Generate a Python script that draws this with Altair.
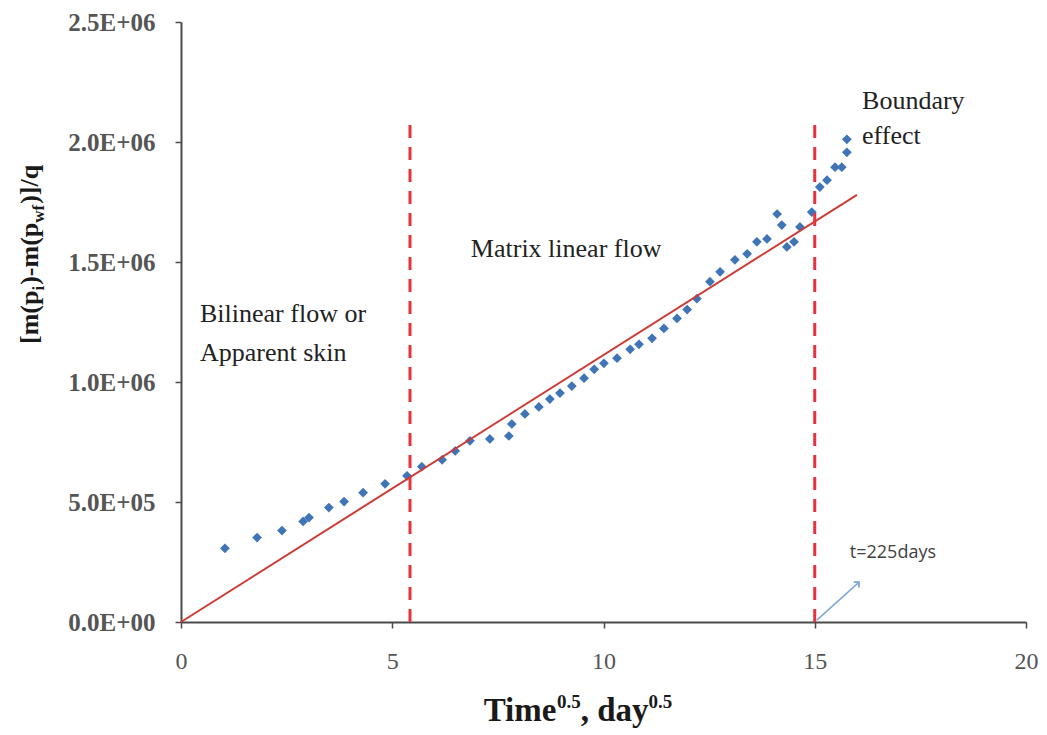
import altair as alt
import pandas as pd

# ---------------- data ----------------
time_sqrt = [1.04, 1.80, 2.39, 2.89, 3.03, 3.50, 3.86, 4.31, 4.83, 5.35, 5.70, 6.18, 6.49,
             6.84, 7.31, 7.76, 7.83, 8.14, 8.47, 8.73, 8.97, 9.25, 9.54, 9.78, 10.01, 10.32,
             10.63, 10.84, 11.15, 11.43, 11.74, 11.98, 12.21, 12.52, 12.76, 13.11, 13.40,
             13.63, 13.87, 14.11, 14.22, 14.34, 14.51, 14.65, 14.93, 15.12, 15.29, 15.48,
             15.64, 15.76, 15.76]
norm_dp = [307000, 352000, 381000, 419000, 435000, 477000, 502000, 539000, 576000, 609000,
           647000, 676000, 713000, 755000, 763000, 775000, 825000, 867000, 896000, 929000,
           954000, 983000, 1016000, 1053000, 1078000, 1099000, 1136000, 1157000, 1182000,
           1223000, 1265000, 1302000, 1347000, 1418000, 1459000, 1509000, 1534000, 1584000,
           1596000, 1700000, 1654000, 1563000, 1584000, 1646000, 1708000, 1812000, 1841000,
           1895000, 1895000, 1957000, 2011000]

fit_x = [0, 16]
fit_y = [0, 1780000]

boundary_x = [5.42, 15.0]
boundary_bottom = [0, 0]
boundary_top = [2080000, 2080000]

ann_text = ["Bilinear flow or", "Apparent skin", "Matrix linear flow", "Boundary", "effect"]
ann_x = [0.45, 0.45, 6.86, 16.12, 16.12]
ann_y = [1285000, 1119000, 1555000, 2172000, 2027000]

note_text = ["t=225days"]
note_x = [15.83]
note_y = [286000]

arrow_x = [15.05]
arrow_y = [8000]
arrow_x2 = [16.05]
arrow_y2 = [166000]

x_ticks = [0, 5, 10, 15, 20]
y_ticks = [0, 500000, 1000000, 1500000, 2000000, 2500000]
y_tick_labels = ["0.0E+00", "5.0E+05", "1.0E+06", "1.5E+06", "2.0E+06", "2.5E+06"]

# ---------------- layout / style ----------------
W, H = 845, 600
LEFT, TOP, RIGHT, BOTTOM = 173, 14, 13, 108
SERIF = "Liberation Serif"
BLUE = "#3f74b6"
RED_FIT = "#cc3b36"
RED_DASH = "#e8313c"
ARROW = "#7fa8d8"

xscale = alt.Scale(domain=[0, 20], nice=False, zero=False)
yscale = alt.Scale(domain=[0, 2500000], nice=False, zero=False)

label_expr = "{" + ",".join(f"'{int(v)}':'{t}'" for v, t in zip(y_ticks, y_tick_labels)) + "}[''+datum.value]"

xaxis = alt.Axis(values=x_ticks, title=None, grid=False, labelFont=SERIF,
                 labelFontSize=24, labelColor="#555555", domainColor="#4a4a4a",
                 domainWidth=2, tickColor="#4a4a4a", tickWidth=1.5, tickSize=6,
                 labelPadding=21, labelFlush=False)
yaxis = alt.Axis(values=y_ticks, labelExpr=label_expr, title=None, grid=False,
                 labelFont=SERIF, labelFontSize=25, labelFontWeight="bold",
                 labelColor="#555555", domainColor="#4a4a4a", domainWidth=2,
                 tickColor="#4a4a4a", tickWidth=1.5, tickSize=6, labelPadding=20,
                 labelFlush=False)


def X(field):
    return alt.X(field, type="quantitative", scale=xscale, axis=xaxis, title=None)


def Y(field):
    return alt.Y(field, type="quantitative", scale=yscale, axis=yaxis, title=None)


pts = pd.DataFrame({"t": time_sqrt, "dp": norm_dp})
points = alt.Chart(pts).mark_point(shape="diamond", filled=True, size=95, color=BLUE, opacity=1).encode(
    x=X("t"), y=Y("dp"))

fit = alt.Chart(pd.DataFrame({"t": fit_x, "dp": fit_y})).mark_line(color=RED_FIT, strokeWidth=2).encode(
    x=X("t"), y=Y("dp"))

vlines = alt.Chart(pd.DataFrame({"t": boundary_x, "dp": boundary_bottom, "dp2": boundary_top})).mark_rule(
    color=RED_DASH, strokeWidth=3, strokeDash=[13, 9]).encode(
    x=X("t"), y=Y("dp"), y2="dp2:Q")

arrow_df = pd.DataFrame({"t": arrow_x, "dp": arrow_y, "t2": arrow_x2, "dp2": arrow_y2})
arrow = alt.Chart(arrow_df).mark_rule(color=ARROW, strokeWidth=1.5).encode(
    x=X("t"), y=Y("dp"), x2="t2:Q", y2="dp2:Q")

head_df = pd.DataFrame({"t": arrow_x2, "dp": arrow_y2})
head = alt.Chart(head_df).mark_point(shape="M-0.7,0.7L0,0L0.7,0.7", filled=False, size=120,
                                     strokeWidth=1.8, stroke=ARROW, angle=48, opacity=1).encode(
    x=X("t"), y=Y("dp"))

ann = alt.Chart(pd.DataFrame({"t": ann_x, "dp": ann_y, "label": ann_text})).mark_text(
    font=SERIF, fontSize=26, color="#222222", align="left", baseline="middle").encode(
    x=X("t"), y=Y("dp"), text="label:N")

note = alt.Chart(pd.DataFrame({"t": note_x, "dp": note_y, "label": note_text})).mark_text(
    font="Open Sans", fontSize=18, color="#404040", align="left", baseline="middle").encode(
    x=X("t"), y=Y("dp"), text="label:N")

# ---------------- axis titles with sub/superscripts ----------------
TB = {" ": .25, ",": .25, ".": .25, "0": .5, "5": .5, "T": .667, "i": .278, "m": .833, "e": .444,
      "d": .556, "a": .5, "y": .5, "[": .333, "]": .333, "(": .333, ")": .333, "-": .333,
      "/": .278, "q": .556, "p": .556, "w": .722, "f": .333}


def tw(s, size):
    return sum(TB.get(c, .5) for c in s) * size


def piece(text, x, y, size, angle=0):
    return alt.Chart(alt.Data(values=[{}])).mark_text(
        text=text, font=SERIF, fontSize=size, fontWeight="bold", color="#1a1a1a",
        align="left", baseline="alphabetic", angle=angle).encode(x=alt.value(x), y=alt.value(y))


ORIGIN_X = 8 + LEFT
ORIGIN_Y = 8 + TOP

# x title: Time^0.5, day^0.5
xt_parts = [("Time", 33, 0), ("0.5", 19, -13), (", day", 33, 0), ("0.5", 19, -13)]
total = sum(tw(s, f) for s, f, _ in xt_parts)
cx = 578 - ORIGIN_X - total / 2
x_title = []
for s, f, dy in xt_parts:
    x_title.append(piece(s, cx, H + 99 + dy, f))
    cx += tw(s, f)

# y title: [m(p_i)-m(p_wf)]/q rotated
yt_parts = [("[m(p", 26, 0), ("i", 17, 6), (")-m(p", 26, 0), ("wf", 17, 6), (")]/q", 26, 0)]
cy = 344 - ORIGIN_Y
base_x = 38 - ORIGIN_X
y_title = []
for s, f, dx in yt_parts:
    y_title.append(piece(s, base_x + dx, cy, f, angle=270))
    cy -= tw(s, f) + (1 if f < 20 else 0)

chart = alt.layer(points, fit, vlines, arrow, head, ann, note, *x_title, *y_title).properties(
    width=W, height=H,
    padding={"left": LEFT, "top": TOP, "right": RIGHT, "bottom": BOTTOM},
    autosize=alt.AutoSizeParams(type="none"),
).configure_view(stroke=None)

chart.save("out.html", embed_options={"renderer": "svg", "actions": False})
